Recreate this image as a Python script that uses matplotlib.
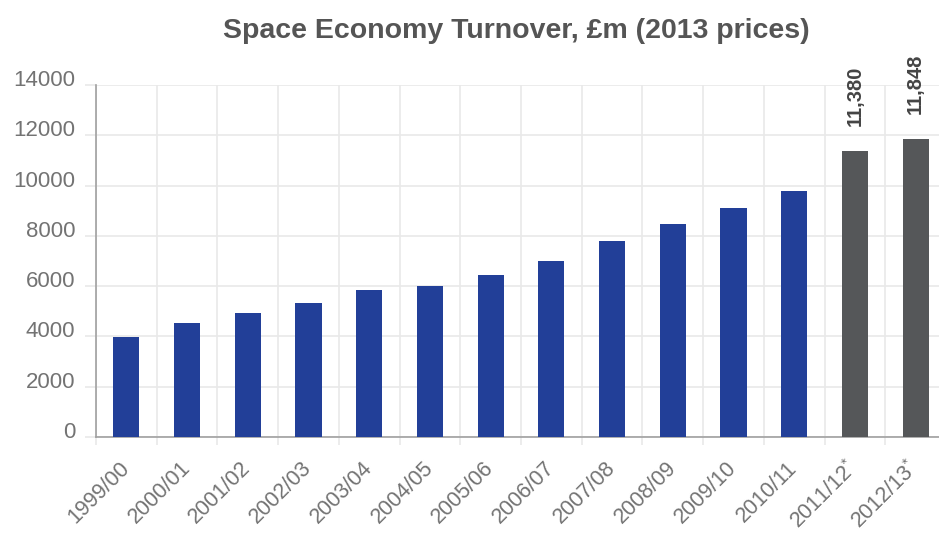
import matplotlib
matplotlib.use('Agg')
import matplotlib.pyplot as plt
import matplotlib.transforms as mtransforms
import numpy as np

plt.rcParams['font.family'] = ['Liberation Sans', 'DejaVu Sans']
plt.rcParams['mathtext.fontset'] = 'custom'
plt.rcParams['mathtext.rm'] = 'Liberation Sans'
plt.rcParams['mathtext.default'] = 'rm'

# data
years = ['1999/00', '2000/01', '2001/02', '2002/03', '2003/04', '2004/05', '2005/06',
         '2006/07', '2007/08', '2008/09', '2009/10', '2010/11', '2011/12$^{*}$', '2012/13$^{*}$']
turnover = [3990, 4546, 4944, 5342, 5847, 6006, 6435,
            7013, 7796, 8473, 9121, 9785, 11380, 11848]
estimated = [False] * 12 + [True, True]

blue = '#223f98'
grey_bar = '#555759'
grid_col = '#e9e9e9'
axis_col = '#a0a0a0'
text_col = '#737373'

fig = plt.figure(figsize=(9.39, 5.40), dpi=100)
ax = fig.add_axes([96 / 939, 103 / 540, 850 / 939, 352 / 540])

x = np.arange(len(years))
colors = [grey_bar if e else blue for e in estimated]
ax.bar(x, turnover, width=0.43, color=colors, zorder=3)

ax.set_xlim(-0.5, len(years) - 0.5)
ax.set_ylim(0, 14000)
ax.set_yticks(np.arange(0, 14001, 2000))
ax.set_xticks(x)
ax.set_xticks(np.arange(-0.5, len(years), 1), minor=True)

# grid lines on category boundaries and y ticks
ax.grid(True, which='minor', axis='x', color=grid_col, lw=1.2, zorder=0)
ax.grid(True, which='major', axis='y', color=grid_col, lw=1.2, zorder=0)

for s in ['top', 'right']:
    ax.spines[s].set_visible(False)
ax.spines['left'].set_color(axis_col)
ax.spines['bottom'].set_color(axis_col)
ax.spines['left'].set_linewidth(1.2)
ax.spines['bottom'].set_linewidth(1.2)

ax.tick_params(axis='y', which='major', length=8, width=1.2, color=grid_col,
               labelsize=16, labelcolor=text_col, pad=7)
ax.tick_params(axis='x', which='major', length=0, labelsize=15.5,
               labelcolor=text_col, pad=20)
ax.tick_params(axis='x', which='minor', length=6, width=1.2, color=grid_col)
ax.yaxis.get_major_ticks()[0].tick1line.set_color(axis_col)
ax.xaxis.get_minor_ticks()[0].tick1line.set_color(axis_col)

ax.set_xticklabels(years, rotation=45, ha='right', va='center', rotation_mode='anchor')

# y labels sit a little above their grid lines
offset = mtransforms.ScaledTranslation(0, 7 / 100, fig.dpi_scale_trans)
for lab in ax.get_yticklabels():
    lab.set_transform(lab.get_transform() + offset)

for xi, v, e in zip(x, turnover, estimated):
    if e:
        ax.annotate(f'{v:,}', (xi, v), xytext=(0, 18), textcoords='offset points',
                    rotation=90, ha='center', va='bottom', fontsize=14.5,
                    fontweight='bold', color='#444444')

fig.text(516 / 939, 1 - 31 / 540, 'Space Economy Turnover, £m (2013 prices)',
         ha='center', va='center', fontsize=20.5, fontweight='bold', color='#555555')

fig.savefig('out.png', dpi=100)
